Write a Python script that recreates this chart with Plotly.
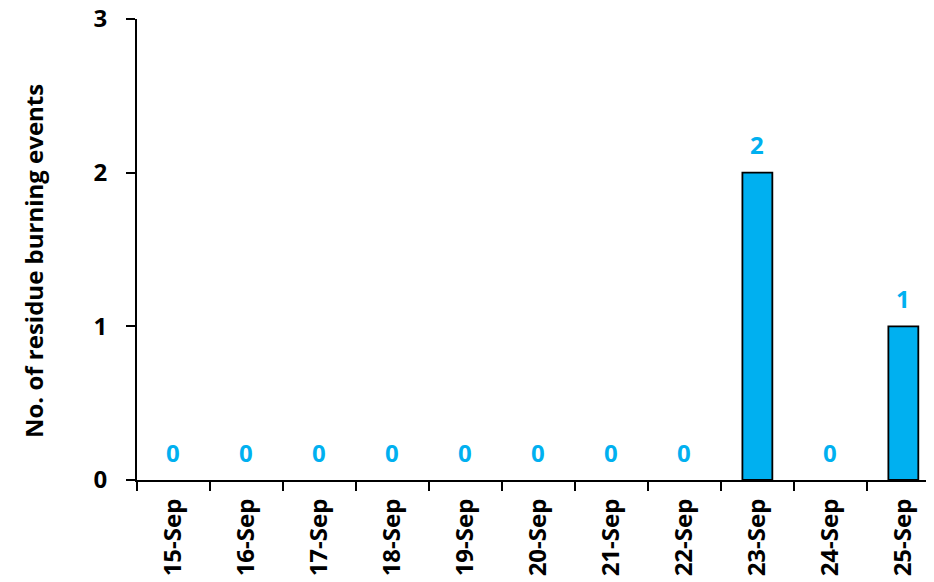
import plotly.graph_objects as go

dates = ["15-Sep", "16-Sep", "17-Sep", "18-Sep", "19-Sep", "20-Sep",
         "21-Sep", "22-Sep", "23-Sep", "24-Sep", "25-Sep"]
events = [0, 0, 0, 0, 0, 0, 0, 0, 2, 0, 1]
y_title = "No. of residue burning events"

BLUE = "#00B0F0"
FONT = "Open Sans"

# page body offset of 8px is compensated in the margins
W, H = 934, 582
ML, MR, MT = 129, 8, 11
PLOT_H = 461
MB = H - MT - PLOT_H
plot_w = W - ML - MR

fig = go.Figure()
fig.add_trace(go.Bar(
    x=dates, y=events,
    marker=dict(color=BLUE,
                line=dict(color="black",
                          width=[1.8 if v > 0 else 0 for v in events])),
    width=0.41,
    hoverinfo="x+y",
))

for d, v in zip(dates, events):
    fig.add_annotation(x=d, y=v, text=f"<b>{v}</b>", showarrow=False,
                       yshift=28, yanchor="middle",
                       font=dict(family=FONT, size=24, color=BLUE))

# y axis title as rotated annotation
fig.add_annotation(xref="paper", yref="paper",
                   x=(33 - 137) / plot_w, y=(480 - 261) / PLOT_H,
                   xanchor="center", yanchor="middle",
                   text=f"<b>{y_title}</b>", textangle=-90, showarrow=False,
                   font=dict(family=FONT, size=24, color="black"))

left_px = -5
fig.add_shape(type="line", xref="paper", yref="paper",
              x0=(left_px - ML) / plot_w, x1=(left_px - ML) / plot_w,
              y0=-MB / PLOT_H, y1=1 + MT / PLOT_H,
              line=dict(color="#d9d9d9", width=1.5))

fig.update_layout(
    width=W, height=H,
    margin=dict(l=ML, r=MR, t=MT, b=MB, autoexpand=False),
    plot_bgcolor="white", paper_bgcolor="white",
    showlegend=False,
    font=dict(family=FONT, color="black"),
    xaxis=dict(
        type="category",
        range=[-0.5, 10.42],
        showline=True, linecolor="black", linewidth=2,
        ticks="outside", tickson="boundaries", ticklen=9, tickwidth=2,
        tickcolor="black",
        tickangle=-90,
        tickfont=dict(family=FONT, size=24, color="black", weight="bold"),
        ticklabelstandoff=7,
        ticklabeloverflow="allow",
        showgrid=False, zeroline=False,
    ),
    yaxis=dict(
        range=[0, 3],
        tickvals=[0, 1, 2, 3],
        showline=True, linecolor="black", linewidth=2,
        ticks="outside", ticklen=9, tickwidth=2, tickcolor="black",
        tickfont=dict(family=FONT, size=24, color="black", weight="bold"),
        ticklabelstandoff=14,
        ticklabeloverflow="allow",
        showgrid=False, zeroline=False,
    ),
)

fig.write_html("out.html")
